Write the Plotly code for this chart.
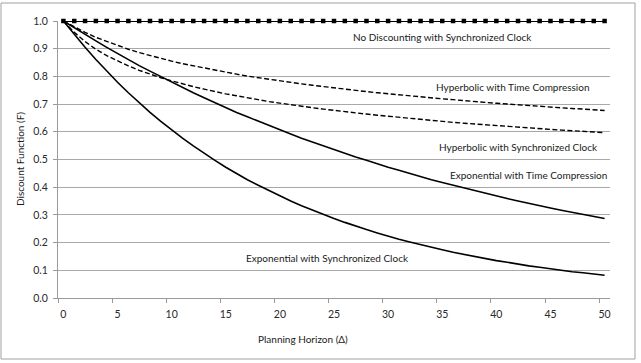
import plotly.graph_objects as go

# Planning horizon categories (Δ)
horizon = [0, 1, 2, 3, 4, 5, 6, 7, 8, 9, 10, 11, 12, 13, 14, 15, 16, 17, 18, 19, 20,
           21, 22, 23, 24, 25, 26, 27, 28, 29, 30, 31, 32, 33, 34, 35, 36, 37, 38, 39, 40,
           41, 42, 43, 44, 45, 46, 47, 48, 49, 50]

no_discount_sync = [1.0, 1.0, 1.0, 1.0, 1.0, 1.0, 1.0, 1.0, 1.0, 1.0, 1.0, 1.0, 1.0, 1.0, 1.0, 1.0, 1.0,
                    1.0, 1.0, 1.0, 1.0, 1.0, 1.0, 1.0, 1.0, 1.0, 1.0, 1.0, 1.0, 1.0, 1.0, 1.0, 1.0, 1.0,
                    1.0, 1.0, 1.0, 1.0, 1.0, 1.0, 1.0, 1.0, 1.0, 1.0, 1.0, 1.0, 1.0, 1.0, 1.0, 1.0, 1.0]

hyperbolic_time_comp = [1.000, 0.978, 0.959, 0.941, 0.926, 0.911, 0.898, 0.886, 0.875, 0.865, 0.855,
                        0.846, 0.838, 0.830, 0.822, 0.815, 0.808, 0.801, 0.795, 0.789, 0.784,
                        0.778, 0.773, 0.768, 0.763, 0.758, 0.754, 0.749, 0.745, 0.741, 0.737,
                        0.733, 0.730, 0.726, 0.722, 0.719, 0.716, 0.712, 0.709, 0.706, 0.703,
                        0.700, 0.698, 0.695, 0.692, 0.689, 0.687, 0.684, 0.682, 0.679, 0.677]

hyperbolic_sync = [1.000, 0.959, 0.926, 0.898, 0.875, 0.855, 0.838, 0.822, 0.808, 0.795, 0.784,
                   0.773, 0.763, 0.754, 0.745, 0.737, 0.730, 0.722, 0.716, 0.709, 0.703,
                   0.698, 0.692, 0.687, 0.682, 0.677, 0.672, 0.668, 0.664, 0.660, 0.656,
                   0.652, 0.648, 0.644, 0.641, 0.638, 0.634, 0.631, 0.628, 0.625, 0.622,
                   0.619, 0.617, 0.614, 0.611, 0.609, 0.606, 0.604, 0.602, 0.599, 0.597]

exponential_time_comp = [1.000, 0.975, 0.951, 0.928, 0.905, 0.882, 0.861, 0.839, 0.819, 0.799, 0.779,
                         0.760, 0.741, 0.723, 0.705, 0.687, 0.670, 0.654, 0.638, 0.622, 0.607,
                         0.592, 0.577, 0.563, 0.549, 0.535, 0.522, 0.509, 0.497, 0.484, 0.472,
                         0.461, 0.449, 0.438, 0.427, 0.417, 0.407, 0.397, 0.387, 0.377, 0.368,
                         0.359, 0.350, 0.341, 0.333, 0.325, 0.317, 0.309, 0.301, 0.294, 0.287]

exponential_sync = [1.000, 0.951, 0.905, 0.861, 0.819, 0.779, 0.741, 0.705, 0.670, 0.638, 0.607,
                    0.577, 0.549, 0.522, 0.497, 0.472, 0.449, 0.427, 0.407, 0.387, 0.368,
                    0.350, 0.333, 0.317, 0.301, 0.287, 0.273, 0.259, 0.247, 0.235, 0.223,
                    0.212, 0.202, 0.192, 0.183, 0.174, 0.165, 0.157, 0.150, 0.142, 0.135,
                    0.129, 0.122, 0.116, 0.111, 0.105, 0.100, 0.095, 0.091, 0.086, 0.082]

series_names = ["No Discounting with Synchronized Clock", "Hyperbolic with Time Compression",
                "Hyperbolic with Synchronized Clock", "Exponential with Time Compression",
                "Exponential with Synchronized Clock"]

FONT = "Lato"
x_cat = [str(h) for h in horizon]

fig = go.Figure()
fig.add_trace(go.Scatter(x=x_cat, y=exponential_sync, mode="lines", name=series_names[4],
                         line=dict(color="black", width=1.6), cliponaxis=False))
fig.add_trace(go.Scatter(x=x_cat, y=exponential_time_comp, mode="lines", name=series_names[3],
                         line=dict(color="black", width=1.6), cliponaxis=False))
fig.add_trace(go.Scatter(x=x_cat, y=hyperbolic_sync, mode="lines", name=series_names[2],
                         line=dict(color="black", width=1.4, dash="5px,2.5px"), cliponaxis=False))
fig.add_trace(go.Scatter(x=x_cat, y=hyperbolic_time_comp, mode="lines", name=series_names[1],
                         line=dict(color="black", width=1.4, dash="5px,2.5px"), cliponaxis=False))
fig.add_trace(go.Scatter(x=x_cat, y=no_discount_sync, mode="lines+markers", name=series_names[0],
                         line=dict(color="black", width=1.8),
                         marker=dict(symbol="square", size=4.5, color="black"), cliponaxis=False))

# plot area in pixels: x 58..610, y 21..298
L, R, T, B = 58, 31, 21, 65
W, H = 641, 363
pw, ph = W - L - R, H - T - B


def px(xp):
    return (xp - L) / pw


def py(yp):
    return (H - B - yp) / ph


labels = [
    (series_names[0], 442, 37),
    (series_names[1], 513, 87),
    (series_names[2], 518, 147),
    (series_names[3], 528, 175),
    (series_names[4], 327, 258),
]
annotations = []
for txt, cx, cy in labels:
    annotations.append(dict(text=txt, x=px(cx), y=py(cy), xref="paper", yref="paper",
                            showarrow=False, xanchor="center", yanchor="middle",
                            font=dict(family=FONT, size=10, color="#1a1a1a")))
annotations.append(dict(text="Planning Horizon (Δ)", x=px(303), y=py(339), xref="paper", yref="paper",
                        showarrow=False, xanchor="center", yanchor="middle",
                        font=dict(family=FONT, size=10, color="#1a1a1a")))
annotations.append(dict(text="Discount Function (F)", x=px(20), y=py(159), xref="paper", yref="paper",
                        showarrow=False, xanchor="center", yanchor="middle", textangle=-90,
                        font=dict(family=FONT, size=10, color="#1a1a1a")))

fig.update_layout(
    width=W, height=H,
    margin=dict(l=L, r=R, t=T, b=B),
    paper_bgcolor="white", plot_bgcolor="white",
    showlegend=False,
    annotations=annotations,
    shapes=[dict(type="rect", xref="paper", yref="paper",
                 x0=px(1), x1=px(635), y0=py(359), y1=py(3),
                 line=dict(color="#a0a0a0", width=1), fillcolor="rgba(0,0,0,0)", layer="below")],
    font=dict(family=FONT, size=10, color="#333333"),
)
fig.update_xaxes(type="category", tickmode="linear", tick0=0, dtick=5, tickson="boundaries",
                 tickangle=0, ticks="outside", ticklen=4, tickcolor="#9a9a9a", showgrid=False,
                 showline=True, linecolor="#9a9a9a", linewidth=1, zeroline=False,
                 ticklabelstandoff=6,
                 range=[-0.5, 50.5], tickfont=dict(family=FONT, size=10.5, color="#2a2a2a"))
fig.update_yaxes(range=[0, 1.0], tickmode="linear", tick0=0, dtick=0.1, tickformat=".1f",
                 ticks="outside", ticklen=4, tickcolor="#9a9a9a", showgrid=True,
                 gridcolor="#a8a8a8", gridwidth=1, showline=True, linecolor="#9a9a9a",
                 linewidth=1, zeroline=False, ticklabelstandoff=3,
                 tickfont=dict(family=FONT, size=10.5, color="#2a2a2a"))

fig.write_html("out.html")
